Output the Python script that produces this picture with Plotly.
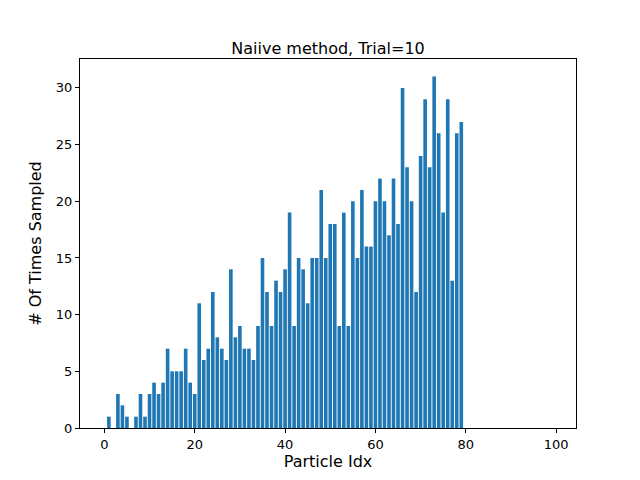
import plotly.graph_objects as go

particle_idx = list(range(100))
times_sampled = [
    0, 1, 0, 3, 2, 1, 0, 1, 3, 1, 3, 4, 3, 4, 7, 5, 5, 5, 7, 4,
    3, 11, 6, 7, 12, 8, 7, 6, 14, 8, 9, 7, 7, 6, 9, 15, 12, 9, 13, 12,
    14, 19, 9, 15, 14, 11, 15, 15, 21, 15, 18, 18, 9, 19, 9, 20, 15, 21, 16, 16,
    20, 22, 20, 17, 22, 18, 30, 23, 20, 12, 24, 29, 23, 31, 26, 19, 29, 13, 26, 27,
] + [0] * 20

fig = go.Figure()
fig.add_trace(go.Bar(x=particle_idx, y=times_sampled, width=0.8,
                     marker=dict(color="#1f77b4", line=dict(width=0))))

axis = dict(showgrid=False, zeroline=False, showline=True, mirror=True,
            linecolor="black", linewidth=1, ticks="outside", ticklen=4,
            tickcolor="black", tickfont=dict(size=13))
fig.update_layout(
    width=640, height=480,
    margin=dict(l=72, r=72, t=51, b=60),
    plot_bgcolor="white", paper_bgcolor="white",
    font=dict(family="DejaVu Sans", size=13, color="black"),
    title=dict(text="Naiive method, Trial=10", x=0.5, xanchor="center",
               y=0.905, yanchor="bottom", font=dict(size=16)),
    xaxis=dict(axis, range=[-5.39, 104.39], tickvals=[0, 20, 40, 60, 80, 100],
               title=dict(text="Particle Idx", standoff=4)),
    yaxis=dict(axis, range=[0, 32.55], tickvals=[0, 5, 10, 15, 20, 25, 30],
               title=dict(text="# Of Times Sampled", standoff=10)),
    showlegend=False,
)
fig.write_html("out.html")
